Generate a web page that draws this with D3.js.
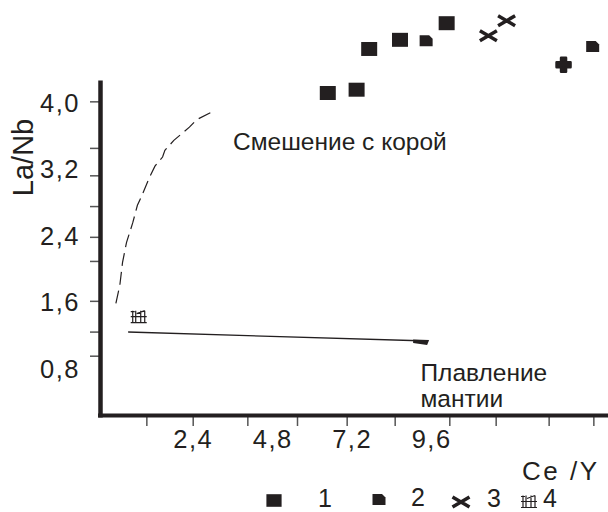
<!DOCTYPE html>
<html>
<head>
<meta charset="utf-8">
<script src="https://cdn.jsdelivr.net/npm/d3@7"></script>
<style>
  body { margin: 0; background: #fff; }
  svg { display: block; font-family: "Liberation Sans", Arial, sans-serif; }
</style>
</head>
<body>
<svg id="chart" width="608" height="512"></svg>
<script>
// values (Ce/Y, La/Nb)
var series1X = [6.48, 7.35, 7.73, 8.66, 10.07];
var series1Y = [4.12, 4.16, 4.65, 4.76, 4.96];
var series2X = [9.45, 14.48];
var series2Y = [4.75, 4.68];
var series2bX = [13.6];
var series2bY = [4.46];
var series3X = [11.33, 11.88];
var series3Y = [4.81, 4.99];
var series4X = [0.77];
var series4Y = [1.43];

// mixing with crust (dashed) and mantle melting (solid) trends
var mixX = [0.08, 0.20, 0.28, 0.40, 0.59, 0.73, 0.86, 1.09, 1.26, 1.49, 1.56, 1.83, 2.30, 2.52, 3.07];
var mixY = [1.59, 1.81, 2.08, 2.32, 2.56, 2.77, 2.88, 3.10, 3.24, 3.35, 3.43, 3.55, 3.71, 3.80, 3.91];
var meltX = [0.45, 9.51];
var meltY = [1.245, 1.137];

var xLabels = [2.4, 4.8, 7.2, 9.6];
var yLabels = [0.8, 1.6, 2.4, 3.2, 4.0];
var xTickMarks = [1.0, 2.4, 4.05, 5.55, 7.05, 8.5, 10.15, 11.55, 13.15, 14.5];
var yTickMarks = [0.96, 1.25, 1.62, 2.10, 2.39, 2.76, 3.13, 3.46, 4.02];
var legendNames = ["1", "2", "3", "4"];

var ink = "#231f20";
var svg = d3.select("#chart");

var x = d3.scaleLinear().domain([2.4, 9.6]).range([192.7, 431.1]);
var y = d3.scaleLinear().domain([0.8, 4.0]).range([369, 103]);

var comma = function(d) { return d3.format(".1f")(d).replace(".", ","); };

// tick marks
svg.append("g")
    .attr("transform", "translate(99,0)")
    .call(d3.axisLeft(y).tickValues(yTickMarks).tickSize(9).tickFormat(""))
    .call(function(g) {
        g.select(".domain").remove();
        g.selectAll("line").attr("stroke", "#555").attr("stroke-width", 1.5);
    });
svg.append("g")
    .attr("transform", "translate(0,417)")
    .call(d3.axisBottom(x).tickValues(xTickMarks).tickSize(9).tickFormat(""))
    .call(function(g) {
        g.select(".domain").remove();
        g.selectAll("line").attr("stroke", "#555").attr("stroke-width", 1.5);
    });

// tick labels
svg.append("g")
    .attr("transform", "translate(80,0)")
    .call(d3.axisLeft(y).tickValues(yLabels).tickSize(0).tickPadding(0).tickFormat(comma))
    .call(function(g) {
        g.select(".domain").remove();
        g.selectAll("text").attr("fill", ink).attr("font-size", 25.5)
            .attr("letter-spacing", 1.5).attr("font-family", null);
    });
svg.append("g")
    .attr("transform", "translate(0,430)")
    .call(d3.axisBottom(x).tickValues(xLabels).tickSize(0).tickPadding(0).tickFormat(comma))
    .call(function(g) {
        g.select(".domain").remove();
        g.selectAll("text").attr("fill", ink).attr("font-size", 25.5)
            .attr("letter-spacing", 1.5).attr("font-family", null);
    });

// thick axis lines
svg.append("line")
    .attr("x1", 100.5).attr("x2", 100.5)
    .attr("y1", y(4.27)).attr("y2", 417.5)
    .attr("stroke", ink).attr("stroke-width", 4.5);
svg.append("line")
    .attr("x1", 98).attr("x2", 608)
    .attr("y1", 415.5).attr("y2", 415.5)
    .attr("stroke", ink).attr("stroke-width", 4);

// axis titles
svg.append("text")
    .attr("transform", "translate(33,157.5) rotate(-90)")
    .attr("text-anchor", "middle")
    .attr("font-size", 29).attr("fill", ink)
    .text("La/Nb");
svg.append("text")
    .attr("x", 522).attr("y", 480)
    .attr("font-size", 26).attr("fill", ink)
    .attr("textLength", 75).attr("lengthAdjust", "spacing")
    .text("Ce /Y");

// trend lines
var line = d3.line()
    .x(function(d) { return x(d[0]); })
    .y(function(d) { return y(d[1]); });

svg.append("path")
    .datum(d3.zip(mixX, mixY))
    .attr("d", line)
    .attr("fill", "none").attr("stroke", ink)
    .attr("stroke-width", 1.2).attr("stroke-dasharray", "13,6");

svg.append("path")
    .datum(d3.zip(meltX, meltY))
    .attr("d", line)
    .attr("fill", "none").attr("stroke", ink)
    .attr("stroke-width", 1.3);

// small wedge at end of melting line
var endX = x(meltX[1]), endY = y(meltY[1]);
svg.append("path")
    .attr("d", "M" + (endX - 15) + "," + (endY - 1.5) + "L" + (endX + 1) + "," + (endY - 1) +
        "L" + (endX - 1) + "," + (endY + 4) + "L" + (endX - 15) + "," + (endY + 2) + "Z")
    .attr("fill", ink);

svg.append("text")
    .attr("x", 233).attr("y", 150)
    .attr("font-size", 24.5).attr("fill", ink)
    .text("Смешение с корой");
svg.append("text")
    .attr("x", 420.5).attr("y", 380.5)
    .attr("font-size", 24.5).attr("fill", ink)
    .text("Плавление");
svg.append("text")
    .attr("x", 420.5).attr("y", 407)
    .attr("font-size", 24.5).attr("fill", ink)
    .text("мантии");

// marker shapes
var shapes = {
    square: "M-8,-7H8V7H-8Z",
    notch: "M-6.5,-5.5H3L6.5,-2V5.5H-6.5Z",
    blob: "M-2.5,-7H2.5V-2.5H7V2.5H2.5V7H-2.5V2.5H-7V-2.5H-2.5Z",
    cross: "M-8.5,-5L8.5,5M-8.5,5L8.5,-5",
    glyph: "M-8,-5H-4M-6,-6V6M-3,-6V6M2,-6V6M6,-6V6M-8,0H8M-2,-3L6,-6M-8,6H8"
};

function drawSeries(xs, ys, shape) {
    svg.append("g").selectAll("path")
        .data(d3.zip(xs, ys))
        .join("path")
        .attr("transform", function(d) { return "translate(" + x(d[0]) + "," + y(d[1]) + ")"; })
        .attr("d", shapes[shape])
        .attr("fill", shape === "cross" || shape === "glyph" ? "none" : ink)
        .attr("stroke", ink)
        .attr("stroke-linejoin", "round")
        .attr("stroke-width", shape === "cross" ? 3.5 : (shape === "glyph" ? 1.2 : (shape === "blob" ? 2.5 : 0)));
}
drawSeries(series1X, series1Y, "square");
drawSeries(series2X, series2Y, "notch");
drawSeries(series2bX, series2bY, "blob");
drawSeries(series3X, series3Y, "cross");
drawSeries(series4X, series4Y, "glyph");

// legend
var legendShapes = ["square", "notch", "cross", "glyph"];
var legendSymX = [274, 379, 461, 529];
var legendSymY = [500.5, 499.5, 502, 501.5];
var legendTextX = [318, 411, 487, 543];
var legendTextY = [507, 506, 507, 507];
var legend = svg.append("g");
legendNames.forEach(function(name, i) {
    legend.append("path")
        .attr("transform", "translate(" + legendSymX[i] + "," + legendSymY[i] + ")" +
            (i === 0 ? " scale(0.95,0.9)" : ""))
        .attr("d", shapes[legendShapes[i]])
        .attr("fill", i >= 2 ? "none" : ink)
        .attr("stroke", ink)
        .attr("stroke-width", i === 2 ? 3.5 : (i === 3 ? 1.2 : 0));
    legend.append("text")
        .attr("x", legendTextX[i]).attr("y", legendTextY[i])
        .attr("font-size", 25).attr("fill", ink)
        .text(name);
});
</script>
</body>
</html>
